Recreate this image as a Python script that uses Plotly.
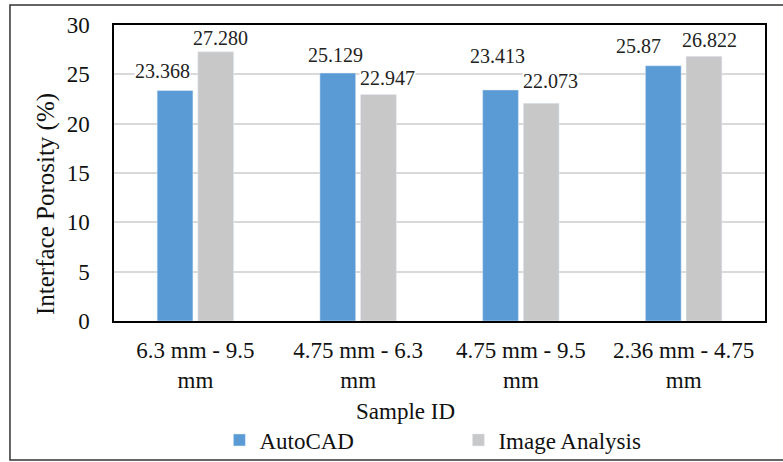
import plotly.graph_objects as go

categories = ["6.3 mm - 9.5<br>mm", "4.75 mm - 6.3<br>mm", "4.75 mm - 9.5<br>mm", "2.36 mm - 4.75<br>mm"]
autocad = [23.368, 25.129, 23.413, 25.87]
autocad_labels = ["23.368", "25.129", "23.413", "25.87"]
image_analysis = [27.280, 22.947, 22.073, 26.822]
image_labels = ["27.280", "22.947", "22.073", "26.822"]
y_ticks = [0, 5, 10, 15, 20, 25, 30]
x_title = "Sample ID"
y_title = "Interface Porosity (%)"

FONT = "Liberation Serif"
BLUE = "#5B9BD5"
GRAY = "#C8C8C8"

fig = go.Figure()
fig.add_trace(go.Bar(name="AutoCAD", x=categories, y=autocad, marker_color=BLUE))
fig.add_trace(go.Bar(name="Image Analysis", x=categories, y=image_analysis, marker_color=GRAY))

# data labels, nudged like the hand-placed labels of the original chart
slot = 23  # half distance between the two bars of a group, px
nudges_auto = [(-10, 7), (0, 6), (0, 22), (-22, 8)]
nudges_img = [(2, 2), (6, 5), (7, 10), (3, 4)]
for cat, val, lab, (dx, dy) in zip(categories, autocad, autocad_labels, nudges_auto):
    fig.add_annotation(x=cat, y=val, text=lab, showarrow=False, xanchor="center", yanchor="bottom",
                       xshift=-slot + dx, yshift=dy, bgcolor="white", borderpad=0,
                       font=dict(family=FONT, size=20, color="#222"))
for cat, val, lab, (dx, dy) in zip(categories, image_analysis, image_labels, nudges_img):
    fig.add_annotation(x=cat, y=val, text=lab, showarrow=False, xanchor="center", yanchor="bottom",
                       xshift=slot + dx, yshift=dy, bgcolor="white", borderpad=0,
                       font=dict(family=FONT, size=20, color="#222"))

# axis titles (placed as in the original, off-centre)
fig.add_annotation(xref="paper", yref="paper", x=0.4485, y=-0.307, text=x_title, showarrow=False,
                   xanchor="center", yanchor="middle", font=dict(family=FONT, size=23, color="#111"))
fig.add_annotation(xref="paper", yref="paper", x=-0.1045, y=0.395, text=y_title, showarrow=False,
                   textangle=-90, xanchor="center", yanchor="middle",
                   font=dict(family=FONT, size=25, color="#111"))

fig.update_layout(
    width=783, height=462,
    margin=dict(l=114, r=18, t=25, b=141, autoexpand=False),
    paper_bgcolor="white", plot_bgcolor="white",
    font=dict(family=FONT, size=23, color="#111"),
    barmode="group", bargap=0.5, bargroupgap=0.12,
    showlegend=True,
    legend=dict(orientation="h", x=0.529, xanchor="center", yref="container", y=0.0476, yanchor="middle",
                font=dict(size=23, family=FONT), entrywidth=194, itemwidth=30,
                bgcolor="rgba(0,0,0,0)"),
    xaxis=dict(showline=True, linecolor="black", linewidth=1.5, mirror=True,
               ticks="", ticklabelstandoff=8, automargin=False,
               tickfont=dict(family=FONT, size=23)),
    yaxis=dict(range=[0, 30], tickvals=y_ticks, showline=True, linecolor="black", linewidth=1.5,
               mirror=True, gridcolor="#D9D9D9", gridwidth=1.5, zeroline=False,
               ticks="", ticklabelstandoff=18, automargin=False,
               tickfont=dict(family=FONT, size=23)),
)

fig.add_shape(type="rect", xref="paper", yref="paper",
              x0=-0.1598, x1=1.06, y0=-0.4696, y1=1.0676,
              line=dict(color="#333", width=1.5), fillcolor="rgba(0,0,0,0)", layer="below")

fig.write_html("out.html")
